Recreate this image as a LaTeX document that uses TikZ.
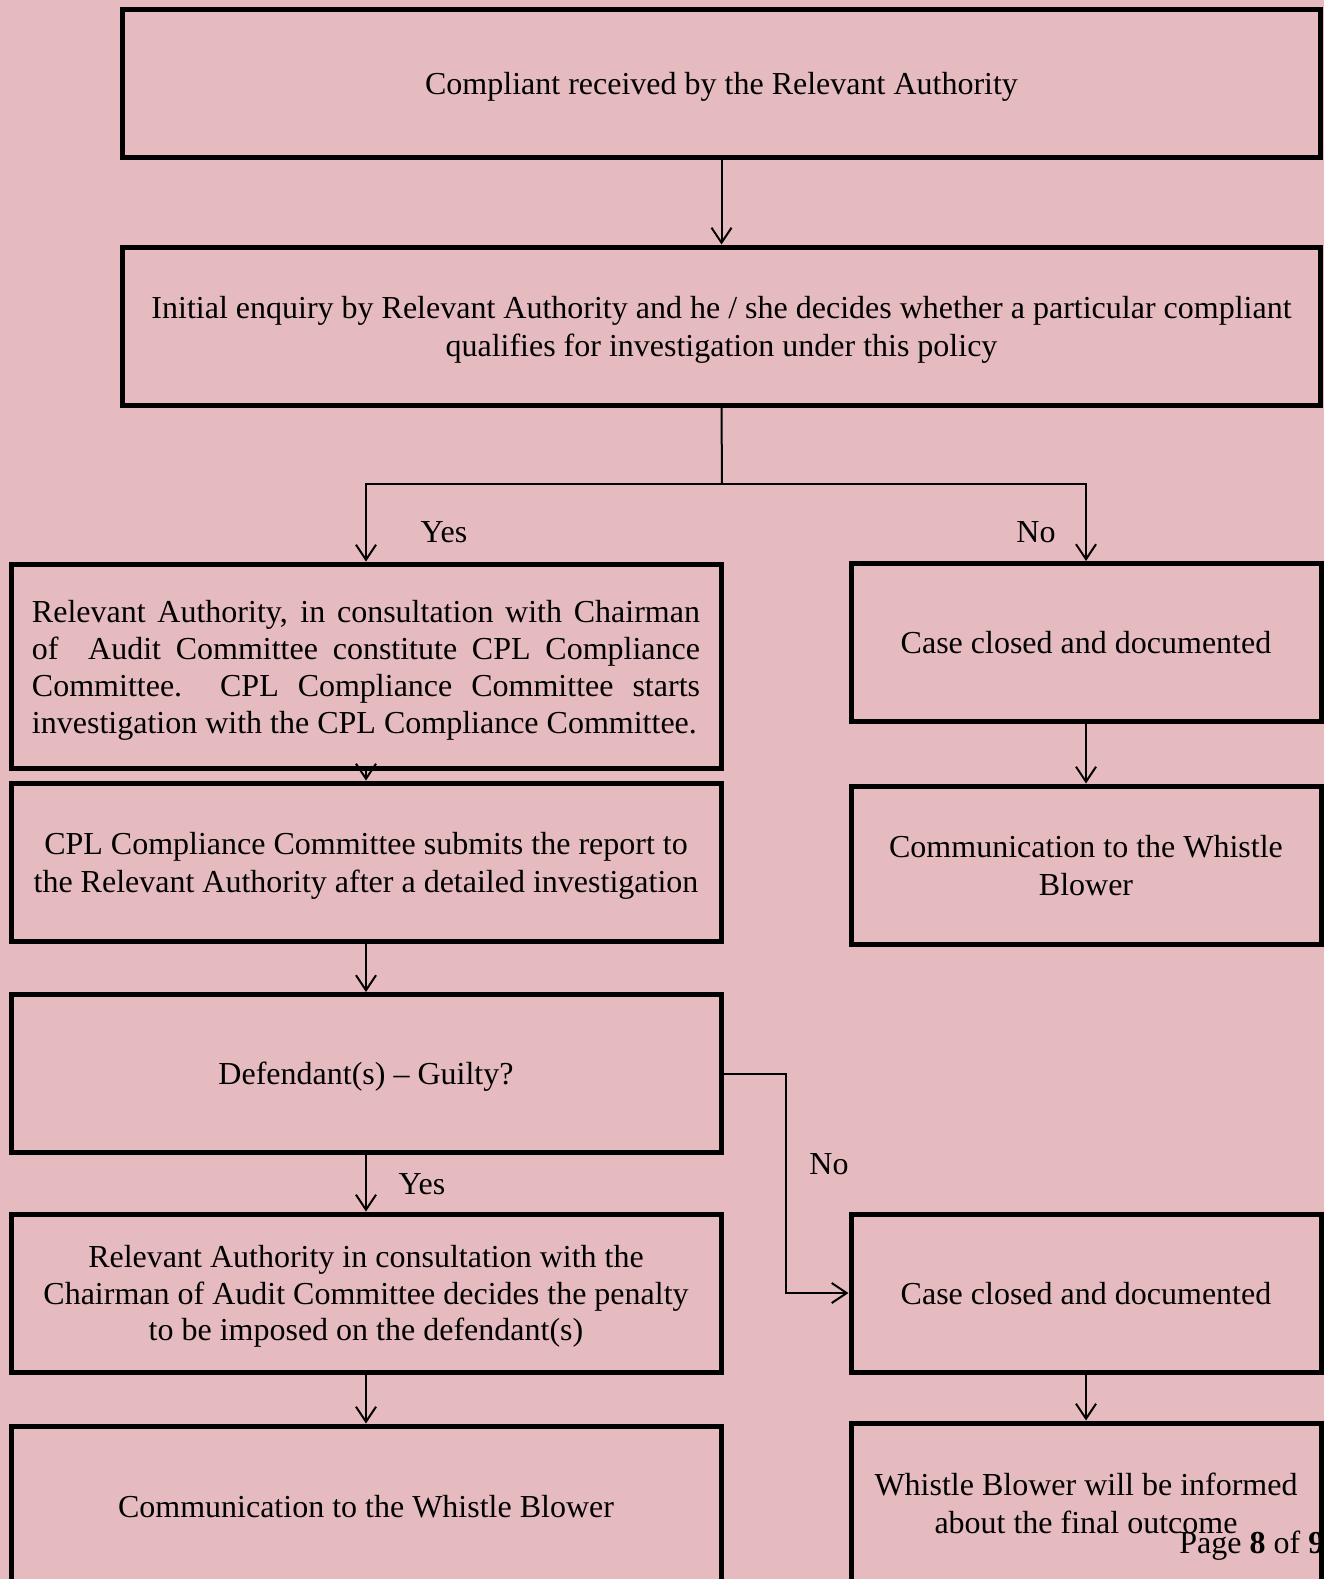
\documentclass[tikz,border=0pt]{standalone}
\usepackage{fontspec}
\setmainfont{Liberation Serif}
\usepackage{xcolor}
\definecolor{paper}{RGB}{230,187,191}
\usepackage{tikz}
\usetikzlibrary{arrows.meta, positioning}

\tikzset{
  stage/.style={draw, line width=2.5pt, inner sep=0pt, align=center, text depth=0pt,
    font=\fontsize{16}{18.9}\selectfont},
  wide/.style={stage, minimum width=599pt, minimum height=79pt},
  leftbox/.style={stage, minimum width=355pt, minimum height=79pt},
  rightbox/.style={stage, minimum width=235pt, minimum height=79pt},
  link/.style={line width=1pt, -{Straight Barb[length=7.5pt, width=10pt, line width=1pt]}},
  answer/.style={font=\fontsize{16}{19}\selectfont, inner sep=0pt}
}

\begin{document}
\begin{tikzpicture}[x=0.5pt, y=-0.5pt]
  % page
  \useasboundingbox (0,0) rectangle (1324,1579);
  \clip (0,0) rectangle (1324,1579);
  \fill[paper] (0,0) rectangle (1324,1579);
  % top of the chart
  \node[wide, minimum height=74pt] (recv) at (721.5,83) {Compliant received by the Relevant Authority};
  \node[wide] (enq) at (721.5,326) {Initial enquiry by Relevant Authority and he / she decides whether a particular compliant\\qualifies for investigation under this policy};
  % yes branch
  \node[leftbox, minimum height=102pt, text width=334pt, align=justify, text depth=54.5pt,
    font=\fontsize{16}{18.5}\selectfont] (cons) at (366,666)
    {Relevant Authority, in consultation with Chairman\linebreak of~\ Audit Committee constitute CPL Compliance\linebreak Committee.~\ CPL Compliance Committee starts\linebreak investigation with the CPL Compliance Committee.};
  \node[leftbox] (report) at (366,862) {CPL Compliance Committee submits the report to\\the Relevant Authority after a detailed investigation};
  \node[leftbox] (guilty) at (366,1073.5) {Defendant(s) -- Guilty?};
  \node[leftbox, font=\fontsize{16}{18.3}\selectfont] (penalty) at (366,1293) {Relevant Authority in consultation with the\\Chairman of Audit Committee decides the penalty\\to be imposed on the defendant(s)};
  \node[leftbox, minimum height=80pt] (tellA) at (366,1506) {Communication to the Whistle Blower};
  % no branch
  \node[rightbox] (closeA) at (1086,642.5) {Case closed and documented};
  \node[rightbox] (tellB) at (1086,865) {Communication to the Whistle\\Blower};
  \node[rightbox] (closeB) at (1086,1293) {Case closed and documented};
  \node[rightbox, minimum height=80pt] (tellC) at (1086,1503) {Whistle Blower will be informed\\about the final outcome};
  % connectors
  \coordinate (split) at (722,484);
  \draw[link] (recv) -- (enq);
  \draw[line width=1pt] (enq.south) -- (split);
  \draw[link] (split) -| (cons.north);
  \draw[link] (split) -| (closeA.north);
  \draw[link] (cons) -- (report);
  \draw[link] (report) -- (guilty);
  \draw[link] (guilty) -- (penalty);
  \draw[link] (penalty) -- (tellA);
  \draw[link] (closeA) -- (tellB);
  \draw[link] (guilty.east) -- ++(62,0) coordinate (nobend) |- (closeB.west);
  \draw[link] (closeB) -- (tellC);
  % answers
  \node[answer] (yesA) at (444,532) {Yes};
  \node[answer] (noA) at (1036,532) {No};
  \node[answer] (yesB) at (422,1184) {Yes};
  \node[answer] (noB) at (829,1164) {No};
  % footer
  \node[answer, anchor=base west] (pageno) at (1179,1553) {Page \textbf{8} of \textbf{9}};
\end{tikzpicture}
\end{document}
